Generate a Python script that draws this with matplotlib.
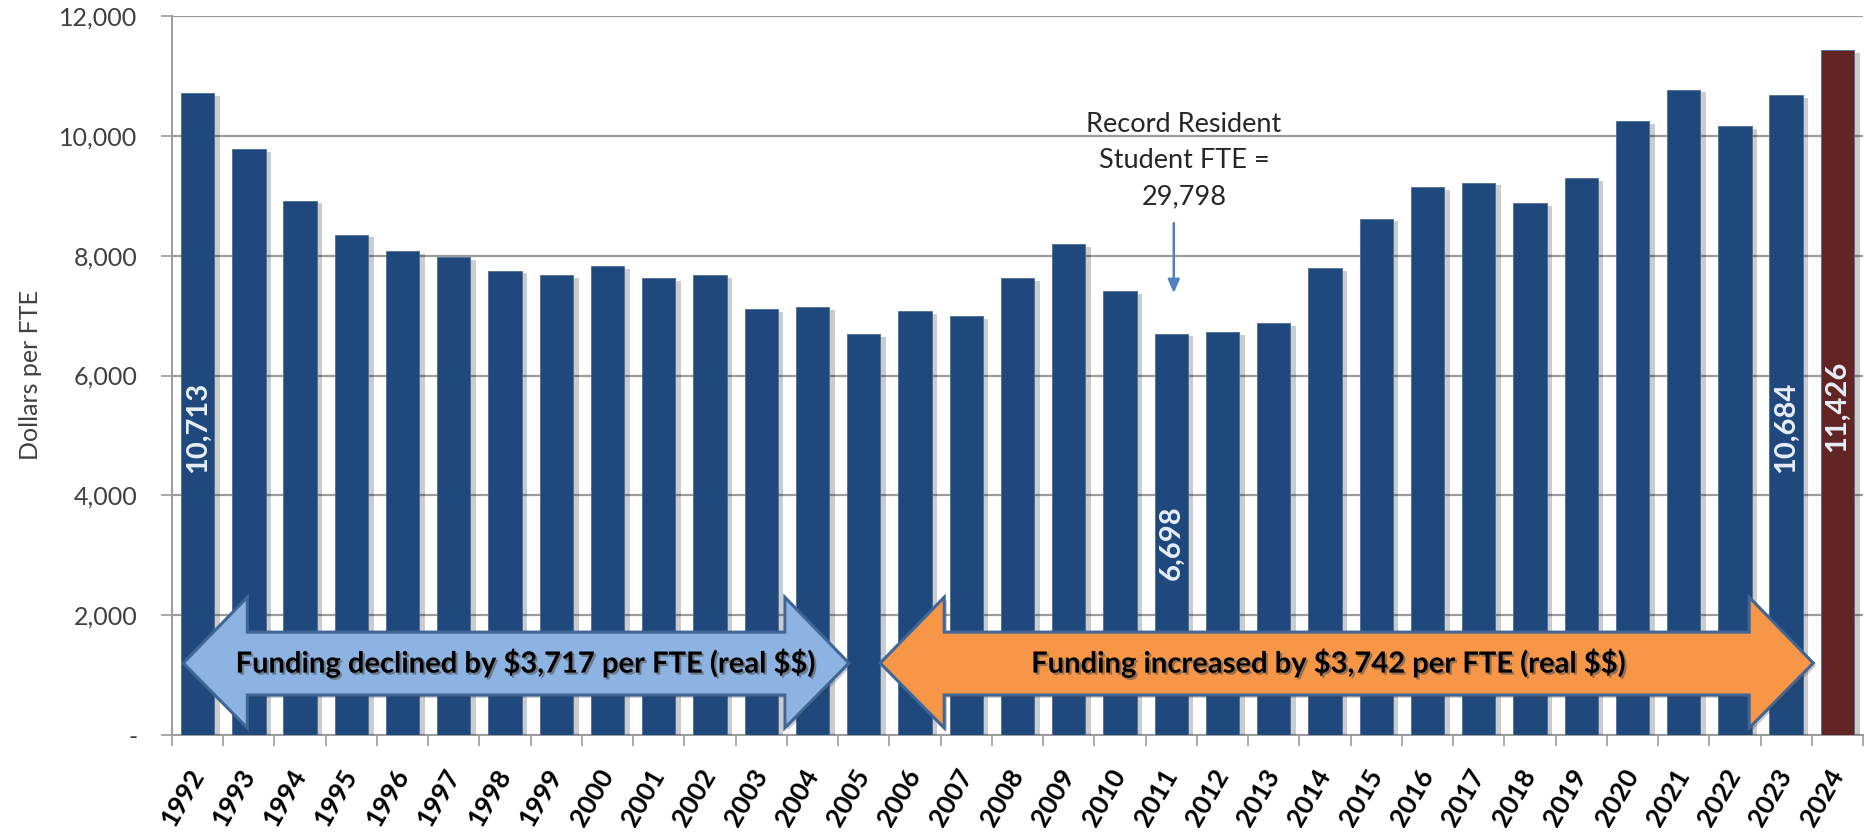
import matplotlib
matplotlib.use('Agg')
import matplotlib.pyplot as plt
import matplotlib.patheffects as pe
from matplotlib.patches import Polygon
from matplotlib.ticker import FuncFormatter, MultipleLocator
import numpy as np

years = ['1992', '1993', '1994', '1995', '1996', '1997', '1998', '1999', '2000', '2001', '2002',
         '2003', '2004', '2005', '2006', '2007', '2008', '2009', '2010', '2011', '2012', '2013',
         '2014', '2015', '2016', '2017', '2018', '2019', '2020', '2021', '2022', '2023', '2024']
dollars_per_fte = [10713, 9780, 8920, 8350, 8080, 7980, 7750, 7680, 7830, 7630, 7670,
                   7110, 7140, 6690, 7070, 6990, 7630, 8190, 7410, 6698, 6730, 6870,
                   7790, 8620, 9140, 9220, 8880, 9300, 10240, 10770, 10160, 10684, 11426]
labelled_years = ['1992', '2011', '2023', '2024']
current_year = '2024'

decline_text = 'Funding declined by $3,717 per FTE (real $$)'
increase_text = 'Funding increased by $3,742 per FTE (real $$)'
record_text = 'Record Resident\nStudent FTE =\n29,798'
record_year = '2011'

BLUE = '#1F497D'
RED = '#632523'
GRID = '#9C9C9C'

plt.rcParams['font.family'] = ['Lato', 'DejaVu Sans']

fig = plt.figure(figsize=(18.66, 8.36), dpi=100)
ax = fig.add_axes([172/1866, 101/836, 1691/1866, 719/836])

x = np.arange(len(years))
colors = [RED if y == current_year else BLUE for y in years]
bars = ax.bar(x, dollars_per_fte, width=0.65, color=colors, edgecolor='#4A6D99', linewidth=0.6, zorder=3)
for b in bars:                                          # soft shadow to the right of each bar
    b.set_path_effects([pe.SimplePatchShadow(offset=(4, -2), shadow_rgbFace='black', alpha=0.2), pe.Normal()])

# white value labels inside selected bars
for i, y in enumerate(years):
    if y in labelled_years:
        ax.text(i, dollars_per_fte[i] * 0.48, f'{dollars_per_fte[i]:,}', rotation=90, ha='center', va='center',
                color='#E8EEF6', fontsize=21, fontweight='bold', zorder=5)

ax.set_xlim(-0.5, len(years) - 0.5)
ax.set_ylim(0, 12000)
ax.yaxis.set_major_locator(MultipleLocator(2000))
ax.yaxis.set_major_formatter(FuncFormatter(lambda v, p: '-' if v == 0 else f'{v:,.0f}'))
ax.grid(axis='y', color=GRID, linewidth=1.6, zorder=0)
ax.set_axisbelow(True)
for s in ['top', 'right']:
    ax.spines[s].set_visible(False)
for s in ['left', 'bottom']:
    ax.spines[s].set_color(GRID)
    ax.spines[s].set_linewidth(1.4)

ax.tick_params(axis='y', length=8, width=1.2, color=GRID, pad=17, labelsize=18, labelcolor='#404040')
ax.set_ylabel('Dollars per FTE', fontsize=18, color='#404040', labelpad=12)

# year labels at bar centres, tick marks between bars
ax.set_xticks(x)
ax.set_xticklabels(years, rotation=60, ha='right', va='center', rotation_mode='anchor',
                   fontsize=19, fontweight='bold', color='black')
ax.tick_params(axis='x', which='major', length=0, pad=26)
ax.set_xticks(np.arange(len(years) + 1) - 0.5, minor=True)
ax.tick_params(axis='x', which='minor', length=8, width=1.2, color=GRID)


def double_arrow(x0, x1, face, head=1.25):
    ymid, htop, btop, bbot, hbot = 1200, 2300, 1717, 667, 117
    pts = [(x0, ymid), (x0 + head, htop), (x0 + head, btop), (x1 - head, btop), (x1 - head, htop),
           (x1, ymid), (x1 - head, hbot), (x1 - head, bbot), (x0 + head, bbot), (x0 + head, hbot)]
    poly = Polygon(pts, closed=True, facecolor=face, edgecolor='#3F6696', linewidth=2.2, zorder=6)
    poly.set_path_effects([pe.SimplePatchShadow(offset=(2, -2), alpha=0.25), pe.Normal()])
    ax.add_patch(poly)


shadow = [pe.withSimplePatchShadow(offset=(1.5, -1.5), shadow_rgbFace='#555555', alpha=0.6)]
double_arrow(-0.28, 12.71, '#8DB3E2')
ax.text(6.39, 1200, decline_text, ha='center', va='center', fontsize=21, fontweight='bold',
        color='black', zorder=7, path_effects=shadow)
double_arrow(13.32, 31.53, '#F79646')
ax.text(22.06, 1200, increase_text, ha='center', va='center', fontsize=21, fontweight='bold',
        color='black', zorder=7, path_effects=shadow)

# record enrolment callout
ri = years.index(record_year)
ax.text(ri + 0.25, 9583, record_text, ha='center', va='center', fontsize=19.5, color='#262626',
        linespacing=1.55, zorder=7)
ax.annotate('', xy=(ri + 0.05, 7330), xytext=(ri + 0.05, 8590),
            arrowprops=dict(arrowstyle='-|>,head_length=0.8,head_width=0.35', color='#4F81BD', lw=1.8),
            zorder=7)

fig.savefig('out.png', dpi=100)
